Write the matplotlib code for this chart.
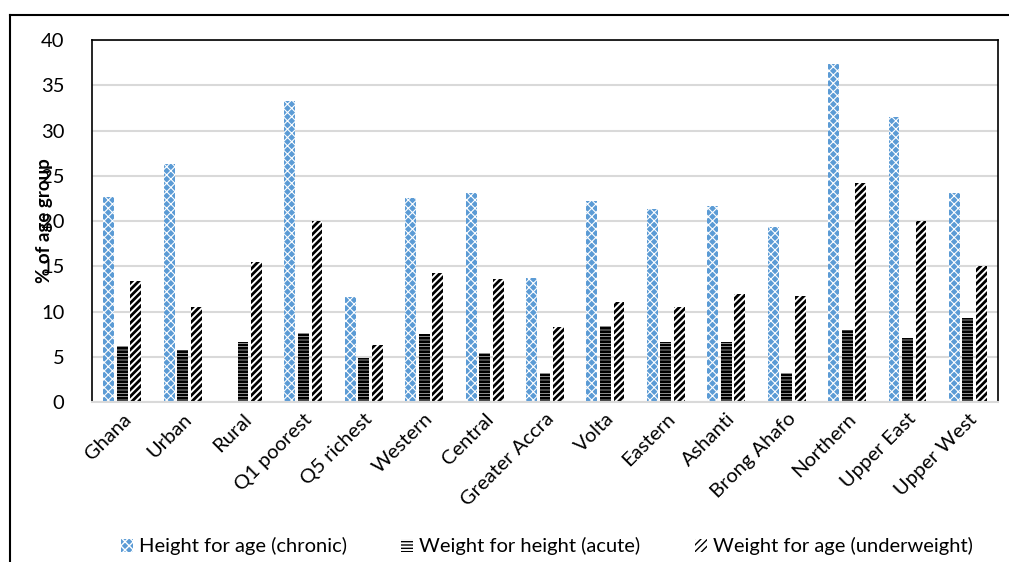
import matplotlib.pyplot as plt
import numpy as np
from matplotlib.lines import Line2D

plt.rcParams["font.family"] = ["Lato", "DejaVu Sans"]

regions = ["Ghana", "Urban", "Rural", "Q1 poorest", "Q5 richest", "Western",
           "Central", "Greater Accra", "Volta", "Eastern", "Ashanti",
           "Brong Ahafo", "Northern", "Upper East", "Upper West"]
# % of age group
chronic = [22.7, 26.3, 0, 33.3, 11.6, 22.6, 23.1, 13.7, 22.2, 21.3, 21.7,
           19.3, 37.4, 31.5, 23.1]
acute = [6.2, 5.7, 6.6, 7.6, 4.9, 7.5, 5.4, 3.2, 8.4, 6.6, 6.6, 3.2, 8.0,
         7.1, 9.3]
underweight = [13.4, 10.5, 15.5, 20.0, 6.3, 14.3, 13.6, 8.3, 11.0, 10.5,
               11.9, 11.7, 24.2, 20.0, 15.0]

fig = plt.figure(figsize=(10.09, 5.62), dpi=100)
ax = fig.add_axes([0.0912, 0.2847, 0.898, 0.644])

x = np.arange(len(regions))
w = 0.18
off = 0.224
with plt.rc_context({"hatch.linewidth": 0.8}):
    ax.bar(x - off, chronic, w, facecolor="#5B9BD5", edgecolor="white",
           hatch="xxxx", linewidth=0, label="Height for age (chronic)",
           zorder=2)
with plt.rc_context({"hatch.linewidth": 2.0}):
    ax.bar(x, acute, w, facecolor="white", edgecolor="black", hatch="-----",
           linewidth=0, label="Weight for height (acute)", zorder=2)
    ax.bar(x + off, underweight, w, facecolor="white", edgecolor="black",
           hatch="/////", linewidth=0, label="Weight for age (underweight)",
           zorder=2)

ax.set_xlim(-0.5, len(regions) - 0.5)
ax.set_ylim(0, 40)
ax.set_yticks(range(0, 41, 5))
ax.yaxis.grid(True, color="#D9D9D9", linewidth=1.5, zorder=0)
ax.set_axisbelow(True)
ax.tick_params(axis="both", length=0, labelsize=14.5, colors="black")
ax.tick_params(axis="y", pad=20)
ax.set_xticks(x)
ax.set_xticklabels(regions, rotation=45, ha="right", rotation_mode="anchor")
ax.tick_params(axis="x", pad=6)

for side in ["left", "top", "right"]:
    ax.spines[side].set_color("black")
    ax.spines[side].set_linewidth(1.2)
ax.spines["bottom"].set_color("#D9D9D9")
ax.spines["bottom"].set_linewidth(1.5)

ax.set_ylabel("% of age group", fontsize=13.5, fontweight="bold")
ax.yaxis.set_label_coords(-0.043, 0.5)

fig.legend(loc="center", bbox_to_anchor=(0.542, 0.028), ncol=3,
           frameon=False, fontsize=14.5, handlelength=0.6, handleheight=0.6,
           handletextpad=0.3, columnspacing=2.7)

# outer border on the left and top
fig.add_artist(Line2D([0.0099, 0.0099], [0, 0.973], color="black",
                      linewidth=1.5, transform=fig.transFigure))
fig.add_artist(Line2D([0.0099, 1.0], [0.973, 0.973], color="black",
                      linewidth=1.5, transform=fig.transFigure))

fig.savefig("out.png", dpi=100)
